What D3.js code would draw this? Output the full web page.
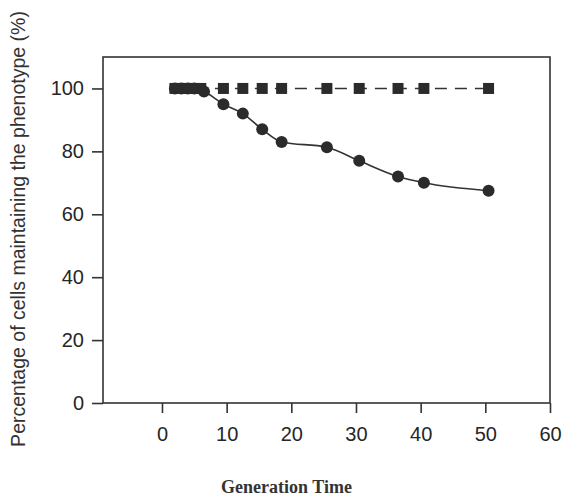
<!DOCTYPE html>
<html>
<head>
    <meta charset="utf-8">
    <title>Phenotype maintenance</title>
    <script src="https://cdn.jsdelivr.net/npm/d3@7"></script>
    <style>
        body { margin: 0; background: #fff; }
        .tick text { font-family: "Liberation Sans", Arial, sans-serif; font-size: 20px; fill: #262626; }
        .tick line, .domain { stroke: #333; stroke-width: 1.6; }
    </style>
</head>
<body>
<script>
        // generations at which cells were scored
        var squareX = [2, 3, 4, 5, 6, 9.5, 12.5, 15.5, 18.5, 25.5, 30.5, 36.5, 40.5, 50.5];
        var squareY = [100, 100, 100, 100, 100, 100, 100, 100, 100, 100, 100, 100, 100, 100];
        var circleX = [2, 3, 4, 5, 6.5, 9.5, 12.5, 15.5, 18.5, 25.5, 30.5, 36.5, 40.5, 50.5];
        var circleY = [100, 100, 100, 100, 99, 95, 92, 87, 83, 81.3, 77, 72, 70, 67.5];
        var xTicks = [0, 10, 20, 30, 40, 50, 60];
        var yTicks = [0, 20, 40, 60, 80, 100];

        var width = 564, height = 498;
        var plotLeft = 103, plotRight = 550, plotTop = 57, plotBottom = 403;

        var svg = d3.select("body").append("svg")
            .attr("width", width)
            .attr("height", height);

        var x = d3.scaleLinear().domain([-9.12, 60]).range([plotLeft, plotRight]);
        var y = d3.scaleLinear().domain([0, 110]).range([plotBottom, plotTop]);

        // frame
        svg.append("rect")
            .attr("x", plotLeft).attr("y", plotTop)
            .attr("width", plotRight - plotLeft).attr("height", plotBottom - plotTop)
            .attr("fill", "none").attr("stroke", "#333").attr("stroke-width", 1.6);

        svg.append("g")
            .attr("transform", "translate(0," + plotBottom + ")")
            .call(d3.axisBottom(x).tickValues(xTicks).tickSize(10).tickPadding(14).tickSizeOuter(0))
            .call(function (g) { g.select(".domain").remove(); });

        svg.append("g")
            .attr("transform", "translate(" + plotLeft + ",0)")
            .call(d3.axisLeft(y).tickValues(yTicks).tickSize(11).tickPadding(8).tickSizeOuter(0))
            .call(function (g) { g.select(".domain").remove(); });

        var squares = squareX.map(function (d, i) { return [d, squareY[i]]; });
        var circles = circleX.map(function (d, i) { return [d, circleY[i]]; });

        var line = d3.line()
            .x(function (d) { return x(d[0]); })
            .y(function (d) { return y(d[1]); })
            .curve(d3.curveMonotoneX);

        svg.append("path")
            .attr("d", line(squares))
            .attr("fill", "none")
            .attr("stroke", "#333")
            .attr("stroke-width", 1.5)
            .attr("stroke-dasharray", "12,8");

        svg.append("path")
            .attr("d", line(circles))
            .attr("fill", "none")
            .attr("stroke", "#333")
            .attr("stroke-width", 1.6);

        svg.selectAll(".sq").data(squares).enter().append("rect")
            .attr("class", "sq")
            .attr("x", function (d) { return x(d[0]) - 5.5; })
            .attr("y", function (d) { return y(d[1]) - 5.5; })
            .attr("width", 11).attr("height", 11)
            .attr("fill", "#2b2b2b");

        svg.selectAll(".ci").data(circles).enter().append("circle")
            .attr("class", "ci")
            .attr("cx", function (d) { return x(d[0]); })
            .attr("cy", function (d) { return y(d[1]); })
            .attr("r", 6)
            .attr("fill", "#2b2b2b");

        svg.append("text")
            .attr("x", (plotLeft + plotRight) / 2 - 40)
            .attr("y", 493)
            .attr("text-anchor", "middle")
            .style("font-family", "'Liberation Serif', 'Times New Roman', serif")
            .style("font-weight", "bold")
            .style("font-size", "18px")
            .style("fill", "#333")
            .text("Generation Time");

        svg.append("text")
            .attr("transform", "translate(25,229) rotate(-90)")
            .attr("text-anchor", "middle")
            .style("font-family", "'Liberation Sans', Arial, sans-serif")
            .style("font-size", "19.5px")
            .style("fill", "#333")
            .text("Percentage of cells maintaining the phenotype (%)");
    </script>
</body>
</html>
